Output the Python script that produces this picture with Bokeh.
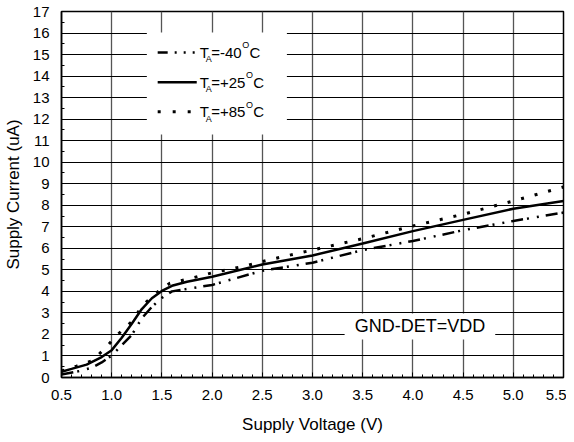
from bokeh.plotting import figure
from bokeh.embed import file_html
from bokeh.resources import INLINE
from bokeh.models import FixedTicker, NumeralTickFormatter, Range1d
from bokeh.core.properties import value

# ---- data ----
x_m40 = [0.5, 0.68, 0.8, 0.9, 1.0, 1.1, 1.2, 1.3, 1.4, 1.5, 1.6, 1.8, 2.0, 2.5, 3.0, 3.5, 4.0, 4.5, 5.0, 5.5]
y_m40 = [0.14, 0.3, 0.45, 0.7, 1.02, 1.5, 1.98, 2.75, 3.28, 3.7, 4.0, 4.15, 4.3, 4.96, 5.33, 5.92, 6.34, 6.84, 7.27, 7.66]

x_p25 = [0.5, 0.6, 0.75, 0.9, 1.0, 1.1, 1.2, 1.3, 1.4, 1.5, 1.6, 1.75, 2.0, 2.5, 3.0, 3.5, 4.0, 4.5, 5.0, 5.5]
y_p25 = [0.27, 0.40, 0.60, 0.95, 1.27, 1.85, 2.5, 3.18, 3.68, 4.02, 4.26, 4.45, 4.68, 5.25, 5.67, 6.22, 6.8, 7.32, 7.84, 8.2]

x_p85 = [0.5, 0.65, 0.8, 0.93, 1.06, 1.2, 1.31, 1.45, 1.58, 1.75, 2.0, 2.3, 2.6, 3.0, 3.5, 4.0, 4.5, 5.0, 5.5]
y_p85 = [0.3, 0.53, 0.77, 1.33, 2.0, 2.6, 3.36, 3.95, 4.38, 4.56, 4.86, 5.15, 5.5, 5.92, 6.45, 7.04, 7.58, 8.2, 8.85]

x_ticks = [0.5, 1.0, 1.5, 2.0, 2.5, 3.0, 3.5, 4.0, 4.5, 5.0, 5.5]
y_ticks = list(range(0, 18))

legend_temps = ["=-40", "=+25", "=+85"]
note_text = "GND-DET=VDD"

FONT = "Liberation Sans"

p = figure(width=566, height=436, output_backend="svg", toolbar_location=None,
           x_range=Range1d(0.5, 5.5), y_range=Range1d(0, 17),
           min_border_left=61, min_border_top=11, min_border_right=3, min_border_bottom=58)
p.background_fill_color = "white"
p.border_fill_color = "white"
p.outline_line_color = "black"
p.outline_line_width = 1.5

# axes
p.xaxis.ticker = FixedTicker(ticks=x_ticks, minor_ticks=[0.5 + 0.1 * i for i in range(51)])
p.yaxis.ticker = FixedTicker(ticks=y_ticks, minor_ticks=[0.5 * i for i in range(35)])
p.xaxis.formatter = NumeralTickFormatter(format="0.0")
for ax in (p.xaxis, p.yaxis):
    ax.major_tick_out = 0
    ax.major_tick_in = 5
    ax.minor_tick_out = 0
    ax.minor_tick_in = 3
    ax.axis_line_color = "black"
    ax.axis_line_width = 1.5
    ax.major_tick_line_color = "black"
    ax.minor_tick_line_color = "black"
    ax.major_label_text_font = FONT
    ax.major_label_text_font_size = "15px"
    ax.major_label_text_color = "black"
    ax.axis_label_text_font = FONT
    ax.axis_label_text_font_size = "17px"
    ax.axis_label_text_font_style = "normal"
    ax.axis_label_text_color = "black"
p.xaxis.axis_label = "Supply Voltage (V)"
p.yaxis.axis_label = "Supply Current (uA)"
p.xaxis.major_label_standoff = 12
p.xaxis.axis_label_standoff = 12
p.yaxis.major_label_standoff = 12
p.yaxis.axis_label_standoff = 7

p.xgrid.grid_line_color = "#555555"
p.xgrid.grid_line_width = 1.3
p.ygrid.grid_line_color = "black"
p.ygrid.grid_line_width = 1

# curves
p.line(x_m40, y_m40, line_color="black", line_width=2.5, line_dash="12 4 2 8 2 7")
p.line(x_p25, y_p25, line_color="black", line_width=2.5)
p.line(x_p85, y_p85, line_color="black", line_width=3, line_dash="3 11")

# legend box (manual, to get subscripts / superscripts)
p.quad(left=[1.35], right=[2.745], bottom=[11.29], top=[16.02], fill_color="white", line_color=None)
rows_y = [15.1, 13.71, 12.34]
dashes = ["10 7 2 7 2 7 2 30", None, "3 12"]
widths = [2.5, 2.5, 3]
lx0, lx1 = 1.458, 1.847
for ry, dsh, lw in zip(rows_y, dashes, widths):
    if dsh:
        p.line([lx0, lx1], [ry, ry], line_color="black", line_width=lw, line_dash=dsh)
    else:
        p.line([lx0, lx1], [ry, ry], line_color="black", line_width=lw)

tx = 1.877
main_w = {"=-40": 30.5, "=+25": 34.2, "=+85": 34.2}
for ry, t in zip(rows_y, legend_temps):
    p.text([tx], [ry], text=["T"], text_font=value(FONT), text_font_size="15px",
           text_baseline="middle", text_align="left", text_color="black")
    p.text([tx], [ry], text=["A"], text_font=value(FONT), text_font_size="9px",
           text_baseline="middle", text_align="left", text_color="black", x_offset=6, y_offset=7)
    p.text([tx], [ry], text=[t], text_font=value(FONT), text_font_size="15px",
           text_baseline="middle", text_align="left", text_color="black", x_offset=11.5)
    ox = 11.5 + main_w[t] + 0.5
    p.text([tx], [ry], text=["O"], text_font=value(FONT), text_font_size="9px",
           text_baseline="middle", text_align="left", text_color="black", x_offset=ox, y_offset=-7)
    p.text([tx], [ry], text=["C"], text_font=value(FONT), text_font_size="15px",
           text_baseline="middle", text_align="left", text_color="black", x_offset=ox + 7.2)

# note box
p.quad(left=[3.32], right=[4.82], bottom=[1.77], top=[2.97], fill_color="white", line_color=None)
p.text([4.07], [2.37], text=[note_text], text_font=value(FONT), text_font_size="18px",
       text_baseline="middle", text_align="center", text_color="black")

open("out.html", "w").write(file_html(p, INLINE))
